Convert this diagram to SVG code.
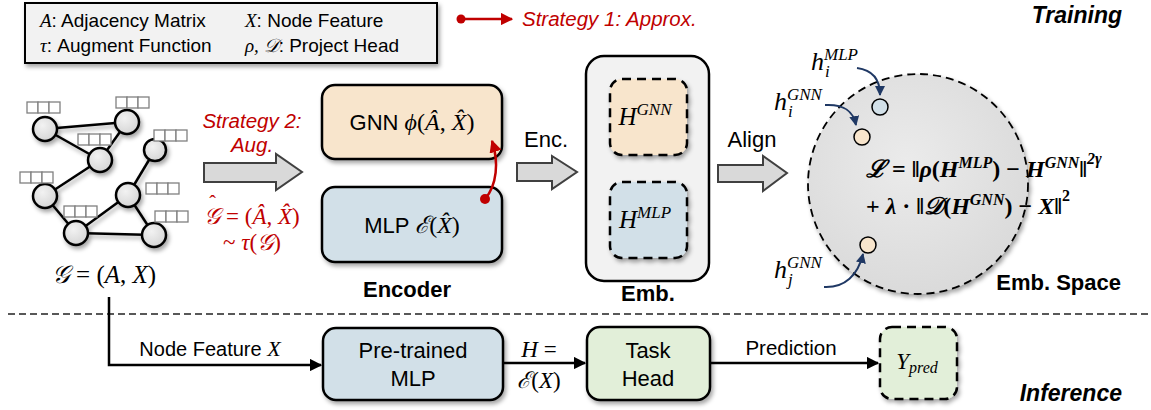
<svg xmlns="http://www.w3.org/2000/svg" width="1151" height="410" viewBox="0 0 1151 410">
<defs>
<style>
.sans{font-family:"Liberation Sans",Arial,sans-serif;}
.m{font-family:"Liberation Serif","DejaVu Serif",serif;font-style:italic;}
.mu{font-family:"Liberation Serif","DejaVu Serif",serif;font-style:normal;}
.red{fill:#c00000;}
.box{stroke:#000;stroke-width:2.5;}
.dbox{stroke:#000;stroke-width:2.5;stroke-dasharray:9 6;}
.blk{fill:#d9d9d9;stroke:#404040;stroke-width:2;stroke-linejoin:miter;}
.edge{stroke:#000;stroke-width:2.5;}
.gn{fill:url(#ng);stroke:#000;stroke-width:2.5;}
.fb{fill:#fff;stroke:#808080;stroke-width:1.3;}
.nav{fill:none;stroke:#1f3864;stroke-width:2;}
.peach{fill:#f8e5cc;}
.blue{fill:#d2e0e8;}
.green{fill:#e2efd9;}
</style>
<filter id="sh" x="-20%" y="-20%" width="150%" height="150%">
<feDropShadow dx="2" dy="3" stdDeviation="2" flood-color="#000" flood-opacity="0.35"/>
</filter>
<radialGradient id="ng" cx="40%" cy="35%" r="70%">
<stop offset="0" stop-color="#f2f2f2"/>
<stop offset="1" stop-color="#d4d4d4"/>
</radialGradient>
<radialGradient id="cg" cx="45%" cy="40%" r="65%">
<stop offset="0" stop-color="#ebebeb"/>
<stop offset="1" stop-color="#d9d9d9"/>
</radialGradient>
<marker id="ar" viewBox="0 0 10 10" refX="9" refY="5" markerWidth="5" markerHeight="5" orient="auto" markerUnits="strokeWidth">
<path d="M0,0 L10,5 L0,10 z" fill="#000"/>
</marker>
<marker id="arr" viewBox="0 0 10 10" refX="9" refY="5" markerWidth="5" markerHeight="5" orient="auto" markerUnits="strokeWidth">
<path d="M0,0 L10,5 L0,10 z" fill="#c00000"/>
</marker>
<marker id="arn" viewBox="0 0 10 10" refX="9" refY="5" markerWidth="5" markerHeight="5" orient="auto" markerUnits="strokeWidth">
<path d="M0,0 L10,5 L0,10 z" fill="#1f3864"/>
</marker>
</defs>

<g id="legend">
<rect x="25" y="3" width="412" height="60" fill="#f2f2f2" stroke="#000" stroke-width="2" filter="url(#sh)"/>
<text x="40" y="27" class="sans" font-size="19"><tspan class="m">A</tspan>: Adjacency Matrix</text>
<text x="40" y="52" class="sans" font-size="19"><tspan class="m">τ</tspan>: Augment Function</text>
<text x="245" y="27" class="sans" font-size="19"><tspan class="m">X</tspan>: Node Feature</text>
<text x="245" y="52" class="sans" font-size="19"><tspan class="m">ρ, 𝒟</tspan>: Project Head</text>
</g>

<g id="legend-strategy1">
<circle cx="461" cy="19" r="4.5" fill="#c00000"/>
<line x1="461" y1="19" x2="512" y2="19" stroke="#c00000" stroke-width="2.5" marker-end="url(#arr)"/>
<text x="522" y="26" class="sans red" font-size="20.5" font-style="italic">Strategy 1: Approx.</text>
</g>

<text id="training-label" x="1122" y="23" class="sans" font-size="23" font-weight="bold" font-style="italic" text-anchor="end">Training</text>

<g id="input-graph">
<g filter="url(#sh)">
<line class="edge" x1="45" y1="129" x2="127" y2="122"/>
<line class="edge" x1="45" y1="129" x2="100" y2="160"/>
<line class="edge" x1="100" y1="160" x2="127" y2="122"/>
<line class="edge" x1="100" y1="160" x2="45" y2="196"/>
<line class="edge" x1="45" y1="196" x2="76" y2="233"/>
<line class="edge" x1="76" y1="233" x2="128" y2="195"/>
<line class="edge" x1="128" y1="195" x2="155" y2="150"/>
<line class="edge" x1="128" y1="195" x2="154" y2="235"/>
<line class="edge" x1="76" y1="233" x2="154" y2="235"/>
<circle class="gn" cx="45" cy="129" r="12"/>
<circle class="gn" cx="127" cy="122" r="12"/>
<circle class="gn" cx="100" cy="160" r="12"/>
<circle class="gn" cx="155" cy="150" r="11"/>
<circle class="gn" cx="45" cy="196" r="12"/>
<circle class="gn" cx="128" cy="195" r="12"/>
<circle class="gn" cx="76" cy="233" r="12"/>
<circle class="gn" cx="154" cy="235" r="12"/>
</g>
<g id="features">
<g transform="translate(27,102)"><rect class="fb" x="0" y="0" width="11" height="11"/><rect class="fb" x="11" y="0" width="11" height="11"/><rect class="fb" x="22" y="0" width="11" height="11"/></g>
<g transform="translate(116,97)"><rect class="fb" x="0" y="0" width="11" height="11"/><rect class="fb" x="11" y="0" width="11" height="11"/><rect class="fb" x="22" y="0" width="11" height="11"/></g>
<g transform="translate(78,134)"><rect class="fb" x="0" y="0" width="11" height="11"/><rect class="fb" x="11" y="0" width="11" height="11"/><rect class="fb" x="22" y="0" width="11" height="11"/></g>
<g transform="translate(154,130)"><rect class="fb" x="0" y="0" width="11" height="11"/><rect class="fb" x="11" y="0" width="11" height="11"/><rect class="fb" x="22" y="0" width="11" height="11"/></g>
<g transform="translate(20,172)"><rect class="fb" x="0" y="0" width="11" height="11"/><rect class="fb" x="11" y="0" width="11" height="11"/><rect class="fb" x="22" y="0" width="11" height="11"/></g>
<g transform="translate(146,183)"><rect class="fb" x="0" y="0" width="11" height="11"/><rect class="fb" x="11" y="0" width="11" height="11"/><rect class="fb" x="22" y="0" width="11" height="11"/></g>
<g transform="translate(64,206)"><rect class="fb" x="0" y="0" width="11" height="11"/><rect class="fb" x="11" y="0" width="11" height="11"/><rect class="fb" x="22" y="0" width="11" height="11"/></g>
<g transform="translate(155,211)"><rect class="fb" x="0" y="0" width="11" height="11"/><rect class="fb" x="11" y="0" width="11" height="11"/><rect class="fb" x="22" y="0" width="11" height="11"/></g>
</g>
<text x="104" y="283" class="mu" font-size="25" text-anchor="middle"><tspan class="m">𝒢</tspan> = (<tspan class="m">A</tspan>, <tspan class="m">X</tspan>)</text>
</g>

<g id="aug">
<text x="252" y="128" class="sans red" font-size="20.5" font-style="italic" text-anchor="middle">Strategy 2:</text>
<text x="252" y="152" class="sans red" font-size="20.5" font-style="italic" text-anchor="middle">Aug.</text>
<polygon class="blk" points="204,163 276,163 276,154 302,172 276,190 276,182 204,182"/>
<text x="252" y="224" class="mu red" font-size="23" text-anchor="middle"><tspan class="m">𝒢</tspan><tspan font-size="20" dx="-11" dy="-14">ˆ</tspan><tspan dx="4.3" dy="14"> = (</tspan><tspan class="m">Â</tspan>, <tspan class="m">X̂</tspan>)</text>
<text x="252" y="250" class="mu red" font-size="23" text-anchor="middle">~ <tspan class="m">τ</tspan>(<tspan class="m">𝒢</tspan>)</text>
</g>

<g id="encoder">
<rect class="box peach" x="322" y="85" width="180" height="74" rx="13" filter="url(#sh)"/>
<text x="412" y="130" class="sans" font-size="22" text-anchor="middle">GNN <tspan class="m" font-size="24">ϕ</tspan><tspan class="mu" font-size="24">(</tspan><tspan class="m" font-size="24">Â</tspan><tspan class="mu" font-size="24">, </tspan><tspan class="m" font-size="24">X̂</tspan><tspan class="mu" font-size="24">)</tspan></text>
<rect class="box blue" x="322" y="187" width="180" height="75" rx="13" filter="url(#sh)"/>
<text x="412" y="233" class="sans" font-size="22" text-anchor="middle">MLP <tspan class="m" font-size="24">ℰ</tspan><tspan class="mu" font-size="24">(</tspan><tspan class="m" font-size="24">X̂</tspan><tspan class="mu" font-size="24">)</tspan></text>
<text x="407" y="297" class="sans" font-size="22" font-weight="bold" text-anchor="middle">Encoder</text>
</g>

<g id="strategy1-arrow">
<circle cx="485" cy="199" r="5" fill="#c00000"/>
<path d="M485,199 C497,185 499,162 492,141" fill="none" stroke="#c00000" stroke-width="2.5" marker-end="url(#arr)"/>
</g>

<g id="enc-arrow">
<text x="546" y="147" class="sans" font-size="22" text-anchor="middle">Enc.</text>
<polygon class="blk" points="517,163 552,163 552,156 577,172 552,189 552,181 517,181"/>
</g>

<g id="emb">
<rect class="box" x="586" y="56" width="123" height="225" rx="18" fill="#f2f2f2"/>
<rect class="dbox peach" x="610" y="79" width="77" height="76" rx="12" filter="url(#sh)"/>
<text x="645" y="125" class="m" font-size="25" text-anchor="middle">H<tspan font-size="17" dy="-10">GNN</tspan></text>
<rect class="dbox blue" x="610" y="182" width="77" height="76" rx="12" filter="url(#sh)"/>
<text x="645" y="228" class="m" font-size="25" text-anchor="middle">H<tspan font-size="17" dy="-10">MLP</tspan></text>
<text x="648" y="301" class="sans" font-size="22" font-weight="bold" text-anchor="middle">Emb.</text>
</g>

<g id="align-arrow">
<text x="752" y="147" class="sans" font-size="22" text-anchor="middle">Align</text>
<polygon class="blk" points="718,165 763,165 763,156 787,173 763,191 763,182 718,182"/>
</g>

<g id="emb-space">
<circle cx="918" cy="184" r="110" fill="url(#cg)" stroke="#000" stroke-width="1.8" stroke-dasharray="8 5" filter="url(#sh)"/>
<circle cx="880" cy="107" r="8" class="blue" stroke="#000" stroke-width="1.5"/>
<circle cx="862" cy="137" r="8" class="peach" stroke="#000" stroke-width="1.5"/>
<circle cx="868" cy="245" r="8" class="peach" stroke="#000" stroke-width="1.5"/>
<text x="811" y="70" class="m" font-size="26">h<tspan font-size="17" dy="-10">MLP</tspan><tspan font-size="17" x="825" dy="17">i</tspan></text>
<text x="774" y="110" class="m" font-size="26">h<tspan font-size="17" dy="-10">GNN</tspan><tspan font-size="17" x="788" dy="17">i</tspan></text>
<text x="774" y="278" class="m" font-size="26">h<tspan font-size="17" dy="-10">GNN</tspan><tspan font-size="17" x="788" dy="17">j</tspan></text>
<path class="nav" d="M857,68 C872,70 880,78 880,95" marker-end="url(#arn)"/>
<path class="nav" d="M825,105 C843,104 853,110 856,125" marker-end="url(#arn)"/>
<path class="nav" d="M824,287 C845,288 858,275 863,254" marker-end="url(#arn)"/>
<text x="866" y="177" class="m" font-size="24" font-weight="bold">ℒ <tspan class="mu">= ‖</tspan>ρ<tspan class="mu">(</tspan>H<tspan font-size="16" dy="-9">MLP</tspan><tspan class="mu" dy="9">) − </tspan>H<tspan font-size="16" dy="-9">GNN</tspan><tspan class="mu" dy="9">‖</tspan><tspan font-size="16" dy="-13">2γ</tspan></text>
<text x="866" y="214" class="m" font-size="24" font-weight="bold"><tspan class="mu">+ </tspan>λ<tspan class="mu"> · ‖</tspan>𝒟<tspan class="mu">(</tspan>H<tspan font-size="16" dy="-9">GNN</tspan><tspan class="mu" dy="9">) − </tspan>X<tspan class="mu">‖</tspan><tspan font-size="16" dy="-13" class="mu">2</tspan></text>
<text x="1121" y="290" class="sans" font-size="22" font-weight="bold" text-anchor="end">Emb. Space</text>
</g>

<line id="separator" x1="8" y1="314" x2="1151" y2="314" stroke="#222" stroke-width="1.5" stroke-dasharray="7 4"/>

<g id="connectors">
<path d="M109,297 L109,365 L321,365" fill="none" stroke="#000" stroke-width="2.5" marker-end="url(#ar)"/>
<line x1="503" y1="363" x2="585" y2="363" stroke="#000" stroke-width="2.5" marker-end="url(#ar)"/>
<line x1="710" y1="363" x2="878" y2="363" stroke="#000" stroke-width="2.5" marker-end="url(#ar)"/>
<text x="210" y="356" class="sans" font-size="20" text-anchor="middle">Node Feature <tspan class="m" font-size="22">X</tspan></text>
<text x="539" y="357" class="m" font-size="23" text-anchor="middle">H <tspan class="mu">=</tspan></text>
<text x="539" y="388" class="m" font-size="23" text-anchor="middle">ℰ<tspan class="mu">(</tspan>X<tspan class="mu">)</tspan></text>
<text x="791" y="355" class="sans" font-size="20.5" text-anchor="middle">Prediction</text>
</g>

<g id="pretrained-mlp">
<rect class="box blue" x="323" y="328" width="180" height="72" rx="13" filter="url(#sh)"/>
<text x="413" y="358" class="sans" font-size="22" text-anchor="middle">Pre-trained</text>
<text x="413" y="386" class="sans" font-size="22" text-anchor="middle">MLP</text>
</g>

<g id="task-head">
<rect class="box green" x="587" y="327" width="123" height="73" rx="13" filter="url(#sh)"/>
<text x="648" y="358" class="sans" font-size="22" text-anchor="middle">Task</text>
<text x="648" y="386" class="sans" font-size="22" text-anchor="middle">Head</text>
</g>

<g id="y-pred">
<rect class="dbox green" x="880" y="327" width="77" height="72" rx="12" filter="url(#sh)"/>
<text x="917" y="369" class="m" font-size="23" text-anchor="middle">Y<tspan font-size="16" dy="4">pred</tspan></text>
</g>

<text id="inference-label" x="1122" y="401" class="sans" font-size="23" font-weight="bold" font-style="italic" text-anchor="end">Inference</text>
</svg>
